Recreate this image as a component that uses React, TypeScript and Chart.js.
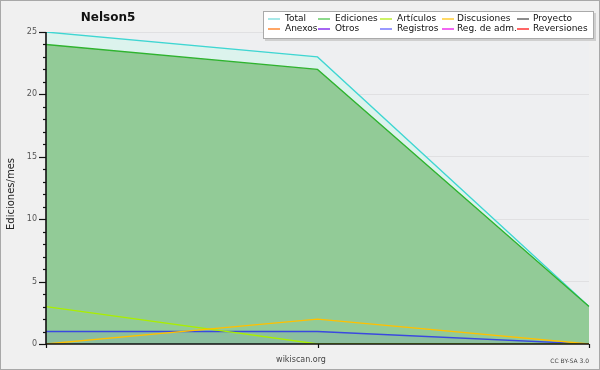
import React, { useEffect, useRef } from 'react';
import { Chart, registerables } from 'chart.js';

Chart.register(...registerables);

const categories = ['Mes 1', 'Mes 2', 'Mes 3'];
const totalValues = [25, 23, 3];
const edicionesValues = [24, 22, 3];
const articulosValues = [3, 0, 0];
const discusionesValues = [0, 2, 0];
const registrosValues = [1, 1, 0];

const legendLabels = [
  'Total', 'Ediciones', 'Artículos', 'Discusiones', 'Proyecto',
  'Anexos', 'Otros', 'Registros', 'Reg. de adm.', 'Reversiones',
];
const legendColors = [
  '#8ae0e0', '#66cc66', '#bbee33', '#ffcc33', '#666666',
  '#ff8833', '#8833ee', '#7777ff', '#ee33ee', '#ff3333',
];

const chartTitle = 'Nelson5';
const yAxisTitle = 'Ediciones/mes';
const xAxisTitle = 'wikiscan.org';
const licenseText = 'CC BY-SA 3.0';

const FONT = '"DejaVu Sans", sans-serif';

const decorPlugin = {
  id: 'decor',
  beforeDraw(chart: any) {
    const { ctx, chartArea: a, width, height } = chart;
    ctx.save();
    ctx.fillStyle = '#f0f0f0';
    ctx.fillRect(0, 0, width, height);
    ctx.fillStyle = '#eeeff1';
    ctx.fillRect(a.left, a.top, a.right - a.left, a.bottom - a.top);
    ctx.strokeStyle = '#a8a8a8';
    ctx.lineWidth = 1;
    ctx.strokeRect(0.5, 0.5, width - 1, height - 1);
    ctx.restore();
  },
  afterDraw(chart: any) {
    const { ctx, chartArea: a } = chart;
    const y = chart.scales.y;
    const x = chart.scales.x;
    ctx.save();
    // axes
    ctx.strokeStyle = '#111';
    ctx.lineWidth = 1.6;
    ctx.beginPath();
    ctx.moveTo(a.left, a.top);
    ctx.lineTo(a.left, a.bottom);
    ctx.lineTo(a.right, a.bottom);
    ctx.stroke();
    // y ticks
    ctx.lineWidth = 1.2;
    y.ticks.forEach((t: any) => {
      const py = Math.round(y.getPixelForValue(t.value)) + 0.5;
      const len = t.value % 5 === 0 ? 7 : 3;
      ctx.beginPath();
      ctx.moveTo(a.left - len, py);
      ctx.lineTo(a.left, py);
      ctx.stroke();
    });
    // x ticks
    categories.forEach((_, i) => {
      const px = Math.round(x.getPixelForValue(i)) + 0.5;
      ctx.beginPath();
      ctx.moveTo(px, a.bottom);
      ctx.lineTo(px, a.bottom + 4);
      ctx.stroke();
    });
    // title
    ctx.fillStyle = '#111';
    ctx.font = 'bold 12px ' + FONT;
    ctx.textAlign = 'center';
    ctx.textBaseline = 'middle';
    ctx.fillText(chartTitle, 108, 18);
    // y title
    ctx.save();
    ctx.translate(11, 194);
    ctx.rotate(-Math.PI / 2);
    ctx.font = '10px ' + FONT;
    ctx.fillStyle = '#222';
    ctx.fillText(yAxisTitle, 0, 0);
    ctx.restore();
    // x title
    ctx.font = '8px ' + FONT;
    ctx.fillStyle = '#444';
    ctx.fillText(xAxisTitle, 301, 360);
    ctx.font = '6px ' + FONT;
    ctx.textAlign = 'right';
    ctx.fillText(licenseText, 589, 361);
    // legend box
    ctx.fillStyle = '#cfcfcf';
    ctx.fillRect(265, 13, 331, 28);
    ctx.fillStyle = '#ffffff';
    ctx.fillRect(263, 11, 331, 28);
    ctx.strokeStyle = '#aaaaaa';
    ctx.lineWidth = 1;
    ctx.strokeRect(263.5, 11.5, 330, 27);
    const markerX = [268, 318, 380, 442, 517];
    const textX = [285, 335, 397, 457, 533];
    const rowY = [19, 29];
    ctx.font = '9px ' + FONT;
    ctx.textAlign = 'left';
    ctx.textBaseline = 'middle';
    legendLabels.forEach((lab, i) => {
      const col = i % 5;
      const row = Math.floor(i / 5);
      const ly = rowY[row];
      ctx.strokeStyle = legendColors[i];
      ctx.lineWidth = 1.5;
      ctx.beginPath();
      ctx.moveTo(markerX[col], ly);
      ctx.lineTo(markerX[col] + 12, ly);
      ctx.stroke();
      ctx.fillStyle = '#111';
      ctx.fillText(lab, textX[col], ly);
    });
    ctx.restore();
  },
};

export default function App() {
  const ref = useRef<HTMLCanvasElement>(null);
  useEffect(() => {
    document.body.style.margin = '0';
    const canvas = ref.current!;
    const chart = new Chart(canvas, {
      type: 'line',
      data: {
        labels: categories,
        datasets: [
          {
            label: 'Total',
            data: totalValues,
            borderColor: '#3fd6d2',
            backgroundColor: '#dcf3ed',
            fill: 'origin',
            borderWidth: 1.3,
            pointRadius: 0,
            tension: 0,
            order: 10,
          },
          {
            label: 'Ediciones',
            data: edicionesValues,
            borderColor: '#2fb32f',
            backgroundColor: '#92cb97',
            fill: 'origin',
            borderWidth: 1.3,
            pointRadius: 0,
            tension: 0,
            order: 9,
          },
          {
            label: 'Registros',
            data: registrosValues,
            borderColor: '#3a48e0',
            backgroundColor: 'rgba(90,110,220,0.12)',
            fill: 'origin',
            borderWidth: 1.3,
            pointRadius: 0,
            tension: 0,
            order: 5,
          },
          {
            label: 'Artículos',
            data: articulosValues,
            borderColor: '#aaee00',
            fill: false,
            borderWidth: 1.3,
            pointRadius: 0,
            tension: 0,
            order: 3,
          },
          {
            label: 'Discusiones',
            data: discusionesValues,
            borderColor: '#ffc000',
            fill: false,
            borderWidth: 1.3,
            pointRadius: 0,
            tension: 0,
            order: 2,
          },
        ],
      },
      options: {
        animation: false,
        responsive: false,
        devicePixelRatio: 1,
        layout: { padding: { left: 0, top: 32, right: 11, bottom: 0 } },
        plugins: {
          legend: { display: false },
          title: { display: false },
          tooltip: { enabled: false },
        },
        scales: {
          x: {
            offset: false,
            ticks: { display: false },
            grid: { display: false },
            border: { display: false },
            afterFit: (s: any) => { s.height = 26; },
          },
          y: {
            min: 0,
            max: 25,
            ticks: {
              stepSize: 1,
              autoSkip: false,
              padding: 9,
              color: '#555',
              font: { family: 'DejaVu Sans', size: 8 },
              callback: (v: any) => (Number(v) % 5 === 0 ? String(v) : ''),
            },
            grid: {
              drawTicks: false,
              color: (c: any) => (c.tick && c.tick.value % 5 === 0 && c.tick.value !== 0 ? 'rgba(0,0,0,0.06)' : 'rgba(0,0,0,0)'),
            },
            border: { display: false },
            afterFit: (s: any) => { s.width = 46; },
          },
        },
      },
      plugins: [decorPlugin],
    });
    return () => chart.destroy();
  }, []);
  return (
    <div style={{ width: 600, height: 370 }}>
      <canvas ref={ref} width={600} height={370} />
    </div>
  );
}
